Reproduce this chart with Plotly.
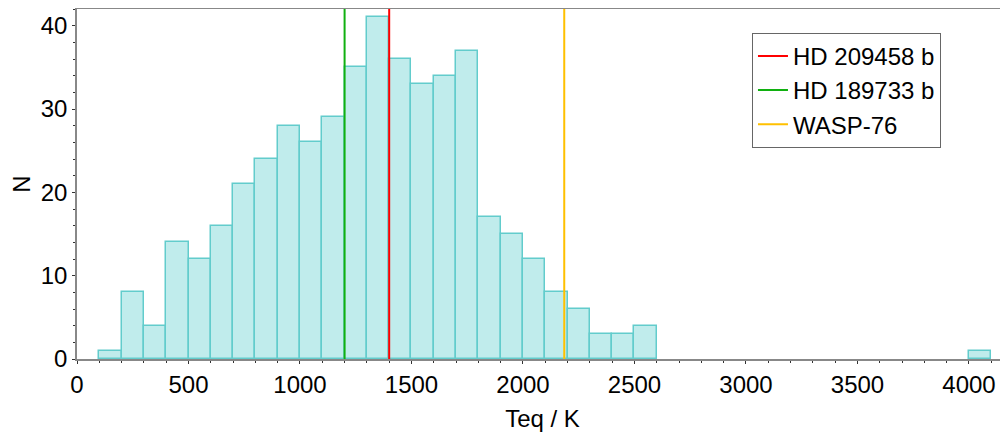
import plotly.graph_objects as go

bin_left = [100, 200, 300, 400, 500, 600, 700, 800, 900, 1000, 1100, 1200, 1300,
            1400, 1500, 1600, 1700, 1800, 1900, 2000, 2100, 2200, 2300, 2400, 2500, 4000]
counts = [1, 8, 4, 14, 12, 16, 21, 24, 28, 26, 29, 35, 41,
          36, 33, 34, 37, 17, 15, 12, 8, 6, 3, 3, 4, 1]
bin_width = 100

planet_names = ["HD 209458 b", "HD 189733 b", "WASP-76"]
planet_teq = [1400, 1200, 2185]
planet_colors = ["#ff0000", "#10b010", "#ffc000"]

font_family = "Liberation Sans, Arial, sans-serif"

fig = go.Figure()
fig.add_trace(go.Bar(
    x=[b + bin_width / 2 for b in bin_left], y=counts, width=bin_width,
    marker=dict(color="rgba(192,236,236,1)", line=dict(color="#62cccc", width=1.5)),
    showlegend=False, hoverinfo="x+y"))

for name, t, c in zip(planet_names, planet_teq, planet_colors):
    fig.add_trace(go.Scatter(x=[t, t], y=[0, 42], mode="lines", name=name,
                             line=dict(color=c, width=2)))

fig.update_layout(
    width=1000, height=430,
    margin=dict(l=69, r=0, t=1, b=79, autoexpand=False),
    paper_bgcolor="white", plot_bgcolor="white",
    font=dict(family=font_family, size=24, color="black"),
    bargap=0,
    legend=dict(x=0.725, y=0.932, xanchor="left", yanchor="top",
                bordercolor="#666666", borderwidth=1, bgcolor="white",
                font=dict(size=24), tracegroupgap=0, itemwidth=30),
    xaxis=dict(range=[0, 4175], tickvals=[0, 500, 1000, 1500, 2000, 2500, 3000, 3500, 4000],
               automargin=False,
               showgrid=False, zeroline=False, showline=True, linecolor="#888888", linewidth=1.5,
               mirror=True, ticks="outside", ticklen=3, tickcolor="#333333",
               minor=dict(dtick=100, ticks="outside", ticklen=2, tickcolor="#333333"),
               title=dict(text="Teq / K", font=dict(size=24), standoff=14)),
    yaxis=dict(range=[0, 42], tickvals=[0, 10, 20, 30, 40],
               automargin=False,
               showgrid=False, zeroline=False, showline=True, linecolor="#888888", linewidth=1.5,
               ticks="outside", ticklen=3, tickcolor="#333333",
               minor=dict(dtick=2, ticks="outside", ticklen=2, tickcolor="#333333"),
               title=dict(text="N", font=dict(size=24), standoff=16)),
)

fig.write_html("out.html")
